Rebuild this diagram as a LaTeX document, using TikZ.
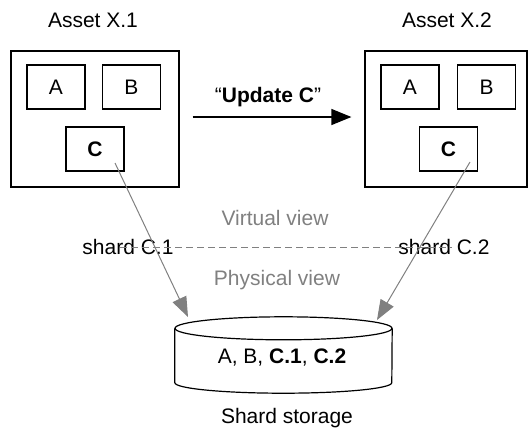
\documentclass[tikz,border=0pt]{standalone}
\usepackage{fontspec}
\setmainfont{Liberation Sans}
\usetikzlibrary{arrows.meta}

\definecolor{viewgray}{RGB}{128,128,128}

\tikzset{
  assetbox/.style={draw, line width=1.2pt, minimum width=#1, minimum height=136pt, inner sep=0pt},
  partbox/.style={draw, line width=1.2pt, minimum width=58pt, minimum height=44pt, inner sep=0pt},
  shardarrow/.style={draw=viewgray, line width=1pt, -{Triangle[length=20pt,width=15pt]}},
  graytext/.style={text=viewgray}
}

\begin{document}
\begin{tikzpicture}[x=1pt,y=-1pt,font=\fontsize{21}{25}\selectfont]
\useasboundingbox (0,0) rectangle (528,432);

% Draw the two assets
  \node[assetbox=168pt] (asset1) at (95,119) {};
  \node[assetbox=162pt] (asset2) at (446,119) {};
  \node (lab1) at (93,20) {Asset X.1};
  \node (lab2) at (447,20) {Asset X.2};

  % Draw the parts inside them
  \node[partbox] (a1) at (56,87) {A};
  \node[partbox] (b1) at (131.5,87) {B};
  \node[partbox] (c1) at (95,149) {\textbf{C}};
  \node[partbox] (a2) at (410,87) {A};
  \node[partbox] (b2) at (486.5,87) {B};
  \node[partbox] (c2) at (448.5,149) {\textbf{C}};



  % Draw the update arrow
  \draw[line width=1.2pt, -{Triangle[length=20pt,width=16pt]}, shorten <=13pt, shorten >=13pt]
    ([yshift=2pt]asset1.east) -- ([yshift=2pt]asset2.west);
  \node (upd) at (268,97) {“\textbf{Update C}”};


  % Draw the shard storage (a drum)
  \node[minimum width=217pt, minimum height=76pt, inner sep=0pt] (store) at (283.5,355) {};
  \draw[line width=1.2pt] ([yshift=-11.5pt]store.north) ellipse [x radius=108.5pt, y radius=11.5pt];
  \draw[line width=1.2pt] ([yshift=-11.5pt]store.north west) -- ([yshift=10.5pt]store.south west)
    arc[start angle=180, end angle=360, x radius=108.5pt, y radius=10.5pt]
    -- ([yshift=-11.5pt]store.north east);
  \node (content) at (282,358) {A, B, \textbf{C.1}, \textbf{C.2}};
  \node (storelab) at (287,418) {Shard storage};

  % Draw the views and the shard labels
  \node[graytext] (virt) at (275,218) {Virtual view};
  \node[graytext] (phys) at (277,280) {Physical view};
  \node (shard1) at (128,247) {shard C.1};
  \node (shard2) at (444,247) {shard C.2};
  \draw[viewgray, line width=1pt, dash pattern=on 7pt off 4pt]
    ([xshift=-8pt]shard1.center) -- ([xshift=8pt]shard2.center);

  % Draw the shards going down
  \draw[shardarrow] ([shift={(20pt,-14pt)}]c1.center) -- ([shift={(-95.5pt,38pt)}]store.center);
  \draw[shardarrow] ([shift={(21.5pt,-13pt)}]c2.center) -- ([shift={(93.5pt,35pt)}]store.center);

\end{tikzpicture}
\end{document}
